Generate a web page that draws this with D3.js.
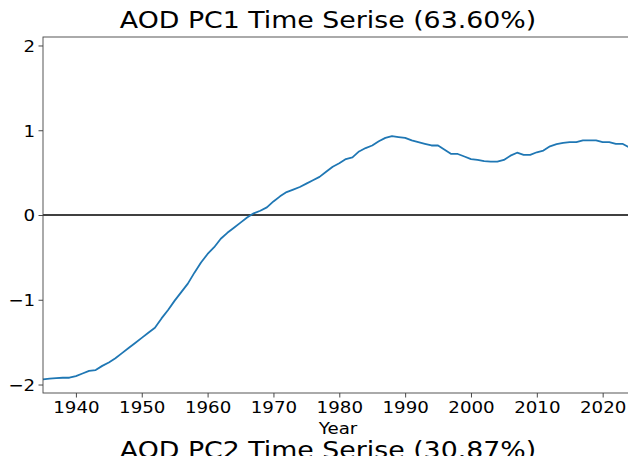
<!DOCTYPE html>
<html>
<head>
<meta charset="utf-8">
<script src="https://cdn.jsdelivr.net/npm/d3@7"></script>
<style>
	body { margin: 0; background: #fff; overflow: hidden; }
	svg { display: block; font-family: "DejaVu Sans", sans-serif; }
</style>
</head>
<body>
<svg id="chart" width="628" height="456"></svg>
<script>
let years = d3.range(1935, 2025);
let pc1 = [
	-1.94, -1.93, -1.925, -1.92, -1.92, -1.90, -1.87, -1.84, -1.83, -1.78,
	-1.74, -1.69, -1.63, -1.57, -1.51, -1.45, -1.39, -1.33, -1.22, -1.12,
	-1.01, -0.91, -0.81, -0.68, -0.56, -0.46, -0.38, -0.28, -0.21, -0.15,
	-0.09, -0.03, 0.02, 0.05, 0.09, 0.16, 0.22, 0.27, 0.30, 0.33,
	0.37, 0.41, 0.45, 0.51, 0.57, 0.61, 0.66, 0.68, 0.75, 0.79,
	0.82, 0.87, 0.91, 0.93, 0.92, 0.91, 0.88, 0.86, 0.84, 0.82,
	0.82, 0.77, 0.72, 0.72, 0.69, 0.66, 0.65, 0.635, 0.63, 0.63,
	0.65, 0.70, 0.735, 0.71, 0.71, 0.74, 0.76, 0.81, 0.835, 0.85,
	0.86, 0.86, 0.88, 0.88, 0.88, 0.86, 0.86, 0.84, 0.84, 0.80
];
let xTicks = [1940, 1950, 1960, 1970, 1980, 1990, 2000, 2010, 2020];
let yTicks = [-2, -1, 0, 1, 2];
let titles = ["AOD PC1 Time Serise (63.60%)", "AOD PC2 Time Serise (30.87%)"];

// the reference figure is a little stretched sideways, so the texts are too
let stretch = 1.14;

function drawSeries(holder, xs, ys){
	let svg = d3.select(holder);
	let margin = {"left": 43, "top": 37, "right": 629, "bottom": 393};
	let mid = 328;

	let x = d3.scaleLinear()
		.domain([1935, 2024])
		.range([margin.left, margin.right]);
	let y = d3.scaleLinear()
		.domain([-2.1, 2.1])
		.range([margin.bottom, margin.top]);

	svg.append("text")
		.attr("transform", `translate(${mid},27.5) scale(${stretch},1)`)
		.attr("text-anchor", "middle")
		.attr("font-size", 23.5)
		.attr("fill", "#000")
		.text(titles[0]);

	svg.append("line")
		.attr("x1", margin.left).attr("x2", margin.right)
		.attr("y1", y(0)).attr("y2", y(0))
		.attr("stroke", "#000")
		.attr("stroke-width", 1.3);

	let line = d3.line()
		.x((d, i) => x(xs[i]))
		.y(d => y(d));

	svg.append("path")
		.datum(ys)
		.attr("d", line)
		.attr("fill", "none")
		.attr("stroke", "#1f77b4")
		.attr("stroke-width", 1.8)
		.attr("stroke-linejoin", "round");

	let xAxis = svg.append("g")
		.attr("transform", `translate(0,${margin.bottom})`)
		.call(d3.axisBottom(x).tickValues(xTicks).tickFormat(d3.format("d")).tickSize(4.5).tickPadding(4.2));
	let yAxis = svg.append("g")
		.attr("transform", `translate(${margin.left},0)`)
		.call(d3.axisLeft(y).tickValues(yTicks).tickFormat(d => d < 0 ? "\u2212" + Math.abs(d) : d).tickSize(4.5).tickPadding(3.5));

	[xAxis, yAxis].forEach(function(a){
		a.select(".domain").remove();
		a.selectAll("line").attr("stroke", "#333").attr("stroke-width", 0.9);
		a.selectAll("text")
			.attr("font-size", 16)
			.attr("fill", "#000")
			.attr("font-family", "DejaVu Sans")
			.attr("transform", `scale(${stretch},1)`);
	});
	yAxis.selectAll("text")
		.attr("dy", "0.36em")
		.attr("x", -8 / stretch);

	svg.append("rect")
		.attr("x", margin.left)
		.attr("y", margin.top)
		.attr("width", margin.right - margin.left)
		.attr("height", margin.bottom - margin.top)
		.attr("fill", "none")
		.attr("stroke", "#444")
		.attr("stroke-width", 0.9);

	svg.append("text")
		.attr("transform", `translate(338,433.5) scale(${stretch},1)`)
		.attr("text-anchor", "middle")
		.attr("font-size", 16)
		.attr("fill", "#000")
		.text("Year");

	// next subplot's title, cut off by the bottom edge
	svg.append("text")
		.attr("transform", `translate(${mid},458) scale(${stretch},1)`)
		.attr("text-anchor", "middle")
		.attr("font-size", 23.5)
		.attr("fill", "#000")
		.text(titles[1]);
}

drawSeries("#chart", years, pc1);
</script>
</body>
</html>
